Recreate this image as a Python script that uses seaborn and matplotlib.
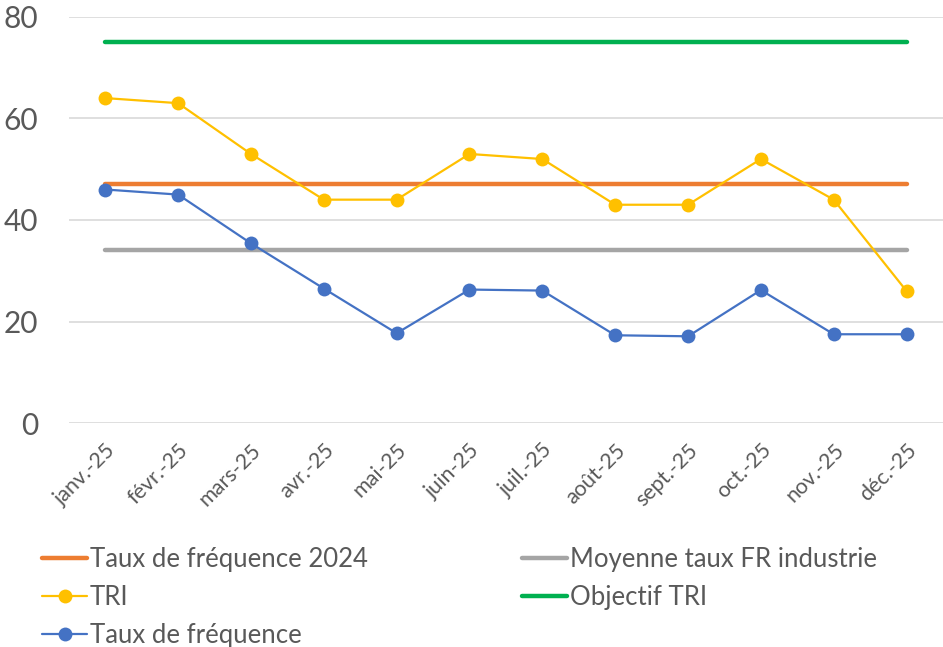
import seaborn as sns
import matplotlib.pyplot as plt
import pandas as pd

# Monthly data
months = ["janv.-25", "févr.-25", "mars-25", "avr.-25", "mai-25", "juin-25",
          "juil.-25", "août-25", "sept.-25", "oct.-25", "nov.-25", "déc.-25"]
tri = [64, 63, 53, 44, 44, 53, 52, 43, 43, 52, 44, 26]
taux_frequence = [46, 45, 35.4, 26.5, 17.7, 26.3, 26.1, 17.3, 17.1, 26.2, 17.5, 17.5]
taux_frequence_2024 = 47
moyenne_industrie = 34
objectif_tri = 75

df = pd.DataFrame({
    "Mois": months,
    "Taux de fréquence 2024": [taux_frequence_2024] * len(months),
    "Moyenne taux FR industrie": [moyenne_industrie] * len(months),
    "TRI": tri,
    "Objectif TRI": [objectif_tri] * len(months),
    "Taux de fréquence": taux_frequence,
})

sns.set_style("white")
plt.rcParams["font.family"] = ["Lato", "DejaVu Sans"]
text_color = "#595959"

fig = plt.figure(figsize=(9.43, 6.47), dpi=100)
ax = fig.add_axes([0.073, 0.346, 0.927, 0.628])

x = list(range(len(months)))
ref_style = dict(linewidth=3.2, solid_capstyle="round", marker=None)
sns.lineplot(x=x, y=df["Taux de fréquence 2024"], color="#ED7D31", ax=ax,
             label="Taux de fréquence 2024", **ref_style)
sns.lineplot(x=x, y=df["Moyenne taux FR industrie"], color="#A5A5A5", ax=ax,
             label="Moyenne taux FR industrie", **ref_style)
sns.lineplot(x=x, y=df["TRI"], color="#FFC000", ax=ax, label="TRI",
             linewidth=1.6, marker="o", markersize=10, markeredgewidth=0)
sns.lineplot(x=x, y=df["Objectif TRI"], color="#00B050", ax=ax,
             label="Objectif TRI", **ref_style)
sns.lineplot(x=x, y=df["Taux de fréquence"], color="#4472C4", ax=ax,
             label="Taux de fréquence", linewidth=1.6, marker="o",
             markersize=10, markeredgewidth=0)

ax.set_xlim(-0.5, len(months) - 0.5)
ax.set_ylim(0, 80)
ax.set_yticks([0, 20, 40, 60, 80])
ax.yaxis.grid(True, color="#D9D9D9", linewidth=1.2)
ax.set_axisbelow(True)
for s in ax.spines.values():
    s.set_visible(False)
ax.set_xticks(x)
ax.set_xticklabels(months, rotation=45, ha="right", rotation_mode="anchor",
                   fontsize=15.5, color=text_color)
ax.tick_params(axis="x", length=0, pad=12)
ax.tick_params(axis="y", length=0, pad=22, labelsize=21.5, labelcolor=text_color)
ax.set_xlabel("")
ax.set_ylabel("")

handles, labels = ax.get_legend_handles_labels()
order = [0, 2, 4, 1, 3]
ax.legend([handles[i] for i in order], [labels[i] for i in order], ncol=2,
          loc="upper left", bbox_to_anchor=(-0.042, -0.28), frameon=False,
          fontsize=18.5, labelcolor=text_color, handlelength=1.75,
          handletextpad=0.1, columnspacing=6.0, labelspacing=0.5,
          borderaxespad=0)

plt.savefig("out.png", dpi=100)
plt.close()
